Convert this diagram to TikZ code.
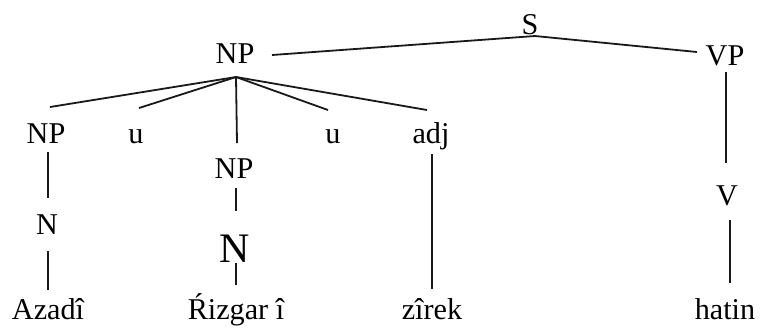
\documentclass[tikz,border=0pt]{standalone}
\usepackage{fontspec}
\setmainfont{Liberation Serif}
\begin{document}
\begin{tikzpicture}[x=0.5pt,y=-0.5pt,
  lbl/.style={anchor=base,inner sep=0pt,font=\fontsize{15.1}{18}\selectfont},
  biglbl/.style={anchor=base,inner sep=0pt,font=\fontsize{21}{24}\selectfont},
  edge/.style={line width=0.9pt,color=black!90}]
\useasboundingbox (0,0) rectangle (766,329);
% labels
\node[lbl] (S) at (530,34) {S};
\node[lbl] (NPa) at (235,63) {NP};
\node[lbl] (VP) at (725,65) {VP};
\node[lbl] (NPb) at (46,143) {NP};
\node[lbl] (ua) at (136,143) {u};
\node[lbl] (NPc) at (234,178) {NP};
\node[lbl] (ub) at (333,143) {u};
\node[lbl] (adj) at (431,143) {adj};
\node[lbl] (Na) at (47,234) {N};
\node[biglbl] (Nb) at (235,262) {N};
\node[lbl] (V) at (727,205) {V};
\node[lbl] (w1) at (48,319) {Azadî};
\node[lbl] (w2) at (236,319) {Ŕizgar î};
\node[lbl] (w3) at (432,319) {zîrek};
\node[lbl] (w4) at (725,319) {hatin};
% connector end points
\coordinate (Sj) at (535,36);
\coordinate (NPaR) at (272,55);
\coordinate (VPL) at (697,52);
\coordinate (NPaj) at (236,77);
\coordinate (NPbT) at (50,107);
\coordinate (uaT) at (139,108);
\coordinate (NPcT) at (237,143);
\coordinate (ubT) at (328,110);
\coordinate (adjT) at (427,110);
\coordinate (NPbB) at (48,152);
\coordinate (NaT) at (48,198);
\coordinate (NaB) at (48,251);
\coordinate (w1T) at (48,290);
\coordinate (NPcB) at (236,188);
\coordinate (NbT) at (236,211);
\coordinate (NbB) at (236,263);
\coordinate (w2T) at (236,285);
\coordinate (adjB) at (432,154);
\coordinate (w3T) at (432,289);
\coordinate (VPB) at (726,72);
\coordinate (VT) at (726,163);
\coordinate (VB) at (730,220);
\coordinate (w4T) at (730,283);
% connectors
\draw[edge] (NPaR) -- (Sj) -- (VPL);
\draw[edge] (NPaj) -- (NPbT);
\draw[edge] (NPaj) -- (uaT);
\draw[edge] (NPaj) -- (NPcT);
\draw[edge] (NPaj) -- (ubT);
\draw[edge] (NPaj) -- (adjT);
\draw[edge] (NPbB) -- (NaT);
\draw[edge] (NaB) -- (w1T);
\draw[edge] (NPcB) -- (NbT);
\draw[edge] (NbB) -- (w2T);
\draw[edge] (adjB) -- (w3T);
\draw[edge] (VPB) -- (VT);
\draw[edge] (VB) -- (w4T);
\end{tikzpicture}
\end{document}
